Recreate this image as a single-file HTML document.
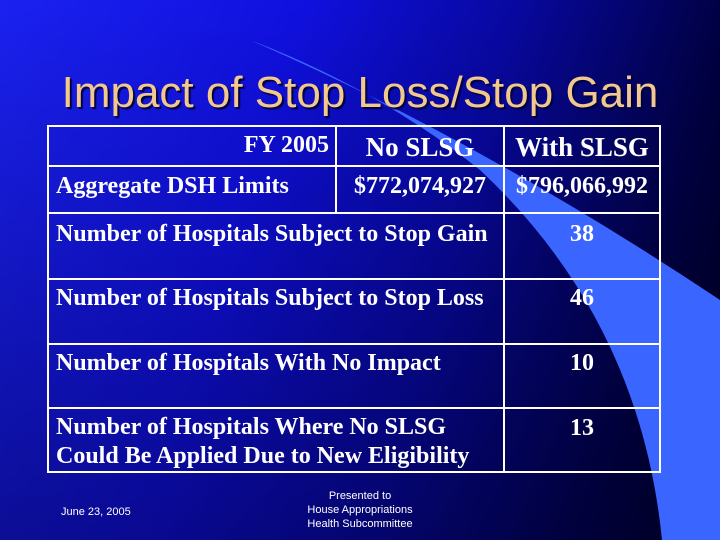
<!DOCTYPE html>
<html><head><meta charset="utf-8"><style>
html,body{margin:0;padding:0;width:720px;height:540px;overflow:hidden}
#s{position:relative;width:720px;height:540px;background:linear-gradient(105deg,#1b22f0 0%,#1010e0 35%,#0808a0 60%,#000040 85%,#000010 100%);font-family:"Liberation Serif",serif}
.t{position:absolute;color:#fff;font-weight:bold;white-space:nowrap;line-height:26px;font-size:24px}
</style></head><body>
<div id="s">
<svg width="720" height="540" style="position:absolute;left:0;top:0">
<defs><linearGradient id="g" x1="0" y1="0" x2="0" y2="1"><stop offset="0" stop-color="#000030" stop-opacity="0"/><stop offset="1" stop-color="#000030" stop-opacity="0.45"/></linearGradient></defs>
<rect width="720" height="540" fill="url(#g)"/>
<path d="M250,40 Q480,140 720,300 L720,540 L662,540 Q640,320 480,170 Q380,90 250,40 Z" fill="#3a66ff"/>
</svg>
<div class="t" style="left:0;width:720px;text-align:center;top:68px;font-family:'Liberation Sans',sans-serif;font-weight:normal;font-size:44px;line-height:50px;color:#f3c88c;text-shadow:2px 2px 1px #000040">Impact of Stop Loss/Stop Gain</div>
<svg width="720" height="540" style="position:absolute;left:0;top:0" stroke="#fff" stroke-width="2" fill="none">
<rect x="48" y="126" width="612" height="346"/>
<line x1="48" y1="166" x2="660" y2="166"/>
<line x1="48" y1="213" x2="660" y2="213"/>
<line x1="48" y1="279" x2="660" y2="279"/>
<line x1="48" y1="344" x2="660" y2="344"/>
<line x1="48" y1="408" x2="660" y2="408"/>
<line x1="336" y1="126" x2="336" y2="213"/>
<line x1="504" y1="126" x2="504" y2="472"/>
</svg>
<div class="t" style="right:391px;top:132px">FY 2005</div>
<div class="t" style="left:336px;width:168px;text-align:center;top:134px;font-size:27px">No SLSG</div>
<div class="t" style="left:504px;width:156px;text-align:center;top:134px;font-size:27px">With SLSG</div>
<div class="t" style="left:56px;top:173px">Aggregate DSH Limits</div>
<div class="t" style="left:336px;width:168px;text-align:center;top:173px">$772,074,927</div>
<div class="t" style="left:504px;width:156px;text-align:center;top:173px">$796,066,992</div>
<div class="t" style="left:56px;top:221px">Number of Hospitals Subject to Stop Gain</div>
<div class="t" style="left:504px;width:156px;text-align:center;top:221px">38</div>
<div class="t" style="left:56px;top:285px">Number of Hospitals Subject to Stop Loss</div>
<div class="t" style="left:504px;width:156px;text-align:center;top:285px">46</div>
<div class="t" style="left:56px;top:350px">Number of Hospitals With No Impact</div>
<div class="t" style="left:504px;width:156px;text-align:center;top:350px">10</div>
<div class="t" style="left:56px;top:413px;line-height:29px">Number of Hospitals Where No SLSG<br>Could Be Applied Due to New Eligibility</div>
<div class="t" style="left:504px;width:156px;text-align:center;top:415px">13</div>
<div class="t" style="left:61px;top:505px;font-family:'Liberation Sans',sans-serif;font-weight:normal;font-size:11px;line-height:14px">June 23, 2005</div>
<div class="t" style="left:260px;width:200px;text-align:center;top:489px;font-family:'Liberation Sans',sans-serif;font-weight:normal;font-size:11px;line-height:14px">Presented to<br>House Appropriations<br>Health Subcommittee</div>
</div>
</body></html>
